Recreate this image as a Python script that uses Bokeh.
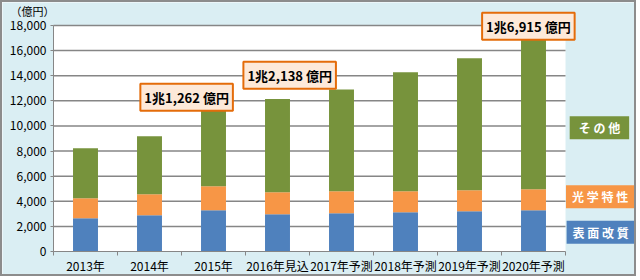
from bokeh.plotting import figure
from bokeh.models import (ColumnDataSource, Range1d, FixedTicker, NumeralTickFormatter,
                          Label, BoxAnnotation)
from bokeh.embed import file_html
from bokeh.resources import INLINE

categories = ["2013年", "2014年", "2015年", "2016年見込", "2017年予測",
              "2018年予測", "2019年予測", "2020年予測"]
series_names = ["表面改質", "光学特性", "その他"]
surface = [2650, 2890, 3290, 2970, 3050, 3130, 3210, 3290]
optical = [1590, 1670, 1910, 1750, 1750, 1670, 1670, 1670]
other = [3980, 4620, 6062, 7418, 8100, 9470, 10510, 11955]
colors = ["#4F81BD", "#F79646", "#77933C"]
callouts = ["1兆1,262 億円", "1兆2,138 億円", "1兆6,915 億円"]
unit_label = "（億円）"
y_ticks = list(range(0, 18001, 2000))

FONT = "Noto Sans CJK JP"
GREY = "#868686"
BG = "#DAEEF3"

n = len(categories)
ymax = y_ticks[-1]
xpos = [i + 0.5 for i in range(n)]
src = ColumnDataSource(dict(x=xpos, s=surface, o=optical, t=other))

# canvas 636x276; plot area from px 51..563 (x) and 23..249 (y)
W, H = 636, 276
L, R, T, B = 51, 563, 23, 249
xs = n / (R - L)
ys = ymax / (B - T)
p = figure(width=W, height=H,
           x_range=Range1d(-L * xs, n + (W - R) * xs),
           y_range=Range1d(-(H - B) * ys, ymax + T * ys),
           output_backend="svg", toolbar_location=None,
           min_border_left=0, min_border_right=0, min_border_top=0, min_border_bottom=0)
p.styles = {"border": "2px solid #8c8c8c"}

p.background_fill_color = BG
p.border_fill_color = BG
p.outline_line_color = None
p.xgrid.visible = False
p.ygrid.visible = False

p.add_layout(BoxAnnotation(left=0, right=n, bottom=0, top=ymax, fill_color="white",
                           fill_alpha=1, line_color=None, level="underlay"))

p.segment(x0=[0] * (len(y_ticks) - 1), x1=[n] * (len(y_ticks) - 1), y0=y_ticks[1:],
          y1=y_ticks[1:], line_color=GREY, line_width=1.5)

p.vbar_stack(["s", "o", "t"], x="x", width=0.39, source=src, color=colors,
             line_color=None)

ya = p.yaxis[0]
ya.fixed_location = 0
ya.bounds = (0, ymax)
ya.ticker = FixedTicker(ticks=y_ticks)
ya.formatter = NumeralTickFormatter(format="0,0")
ya.axis_line_color = GREY
ya.major_tick_line_color = GREY
ya.major_tick_out = 3
ya.major_tick_in = 0
ya.minor_tick_line_color = None
ya.major_label_text_font = FONT
ya.major_label_text_font_size = "12px"
ya.major_label_text_color = "black"
ya.major_label_standoff = 4

xa = p.xaxis[0]
xa.fixed_location = 0
xa.bounds = (0, n)
xa.ticker = FixedTicker(ticks=xpos, minor_ticks=list(range(n + 1)))
xa.major_label_overrides = {x: c for x, c in zip(xpos, categories)}
xa.axis_line_color = GREY
xa.major_tick_line_color = None
xa.major_tick_out = 4
xa.major_tick_in = 0
xa.minor_tick_line_color = GREY
xa.minor_tick_out = 4
xa.minor_tick_in = 0
xa.major_label_text_font = FONT
xa.major_label_text_font_size = "12px"
xa.major_label_text_color = "black"
xa.major_label_standoff = 1

# callout labels
callout_pos = [(2.08, 12289), (3.69, 14040), (7.42, 17944)]
for txt, (cx, cy) in zip(callouts, callout_pos):
    p.add_layout(Label(x=cx, y=cy, text=txt, anchor="center",
                       text_font=FONT, text_font_size="13px", text_font_style="bold",
                       text_color="black", background_fill_color="#FDE9D9",
                       border_line_color="#E46C0A", border_line_width=2, padding=4))

# legend boxes
legend_pos = [(8.55, 1537), (8.54, 4363), (8.53, 9857)]
hpads = [6, 6, 9]
for name, col, (lx, ly), hp in zip(series_names, colors, legend_pos, hpads):
    spaced = " ".join(name)
    try:
        lab = Label(x=lx, y=ly, text=spaced, anchor="center",
                    text_font=FONT, text_font_size="12px", text_font_style="bold",
                    text_color="white", background_fill_color=col,
                    padding=dict(left=hp, right=hp, top=3, bottom=3))
    except Exception:
        lab = Label(x=lx, y=ly, text=spaced, anchor="center",
                    text_font=FONT, text_font_size="12px", text_font_style="bold",
                    text_color="white", background_fill_color=col, padding=4)
    p.add_layout(lab)

p.add_layout(Label(x=-0.328, y=19138, text=unit_label, anchor="center",
                   text_font=FONT, text_font_size="11px", text_color="black"))

open("out.html", "w").write(file_html(p, INLINE))
